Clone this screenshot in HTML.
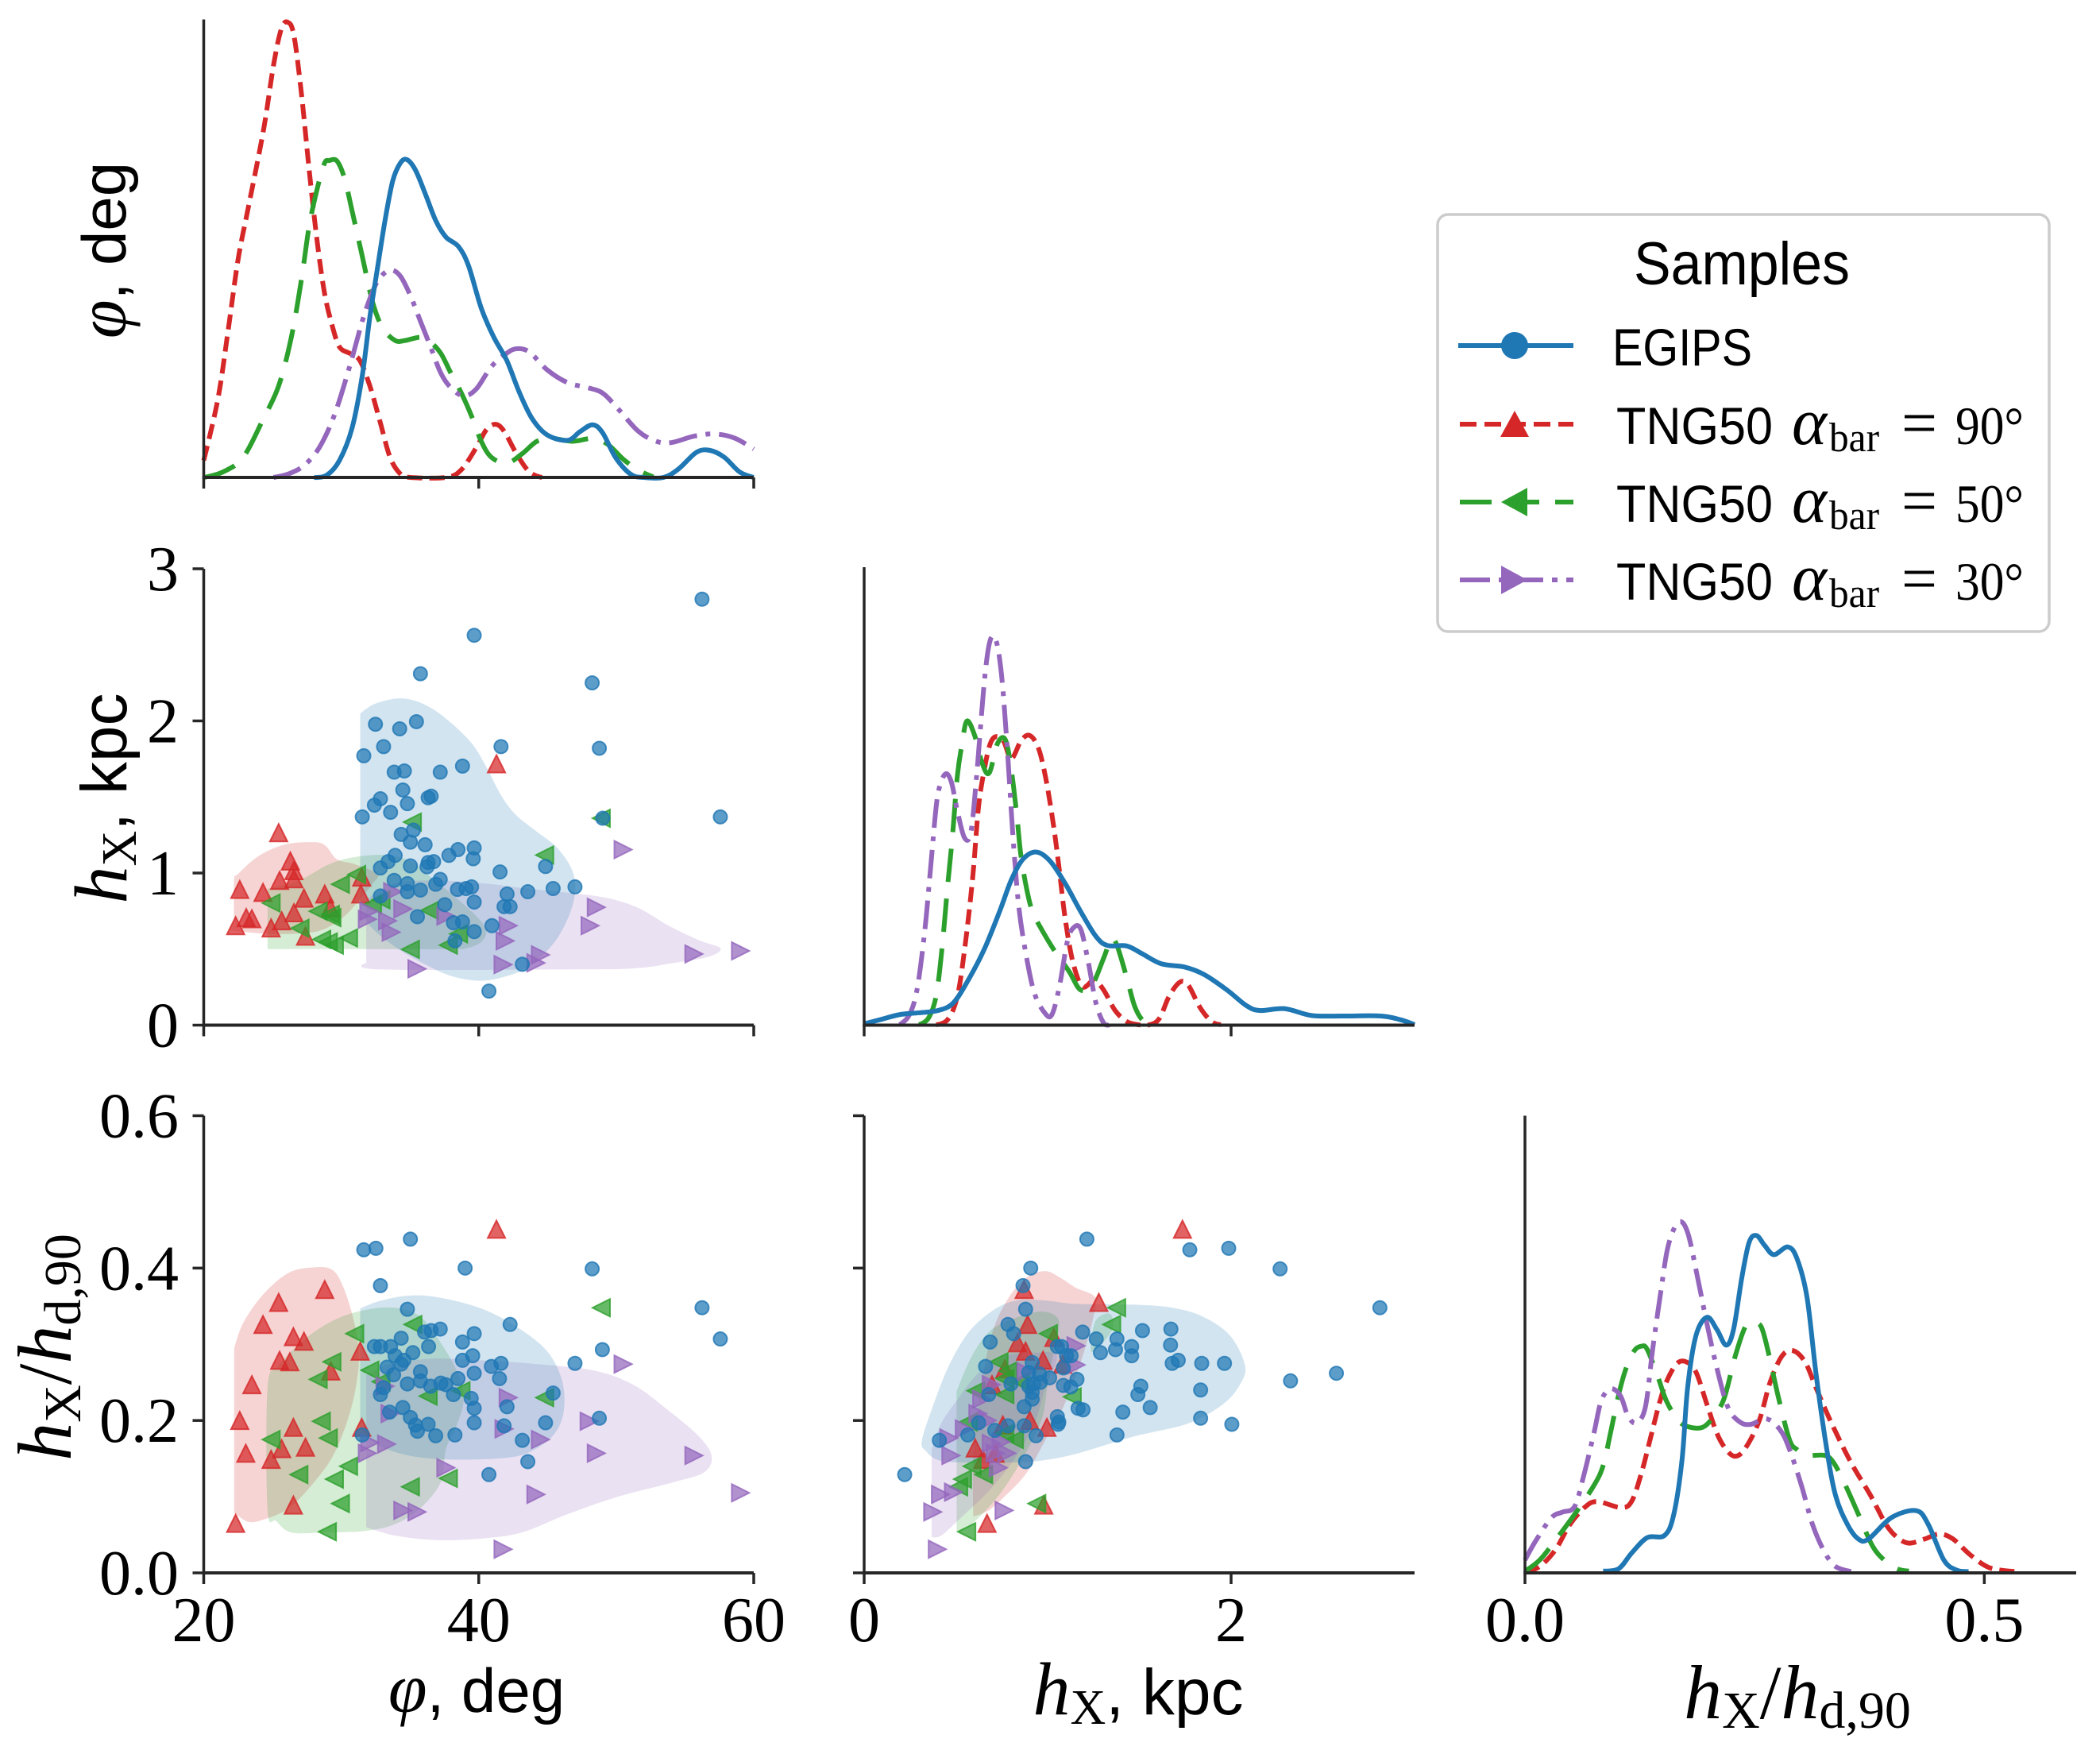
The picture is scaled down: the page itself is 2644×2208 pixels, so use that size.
<!DOCTYPE html>
<html lang="en">
<head>
<meta charset="utf-8">
<title>Samples corner plot</title>
<style>
html,body{margin:0;padding:0;background:#fff;}
svg{display:block;}
.tick{font-family:"Liberation Serif",serif;font-size:80px;fill:#000;}
.sans{font-family:"Liberation Sans",sans-serif;}
.serif{font-family:"Liberation Serif",serif;}
.ital{font-family:"Liberation Serif",serif;font-style:italic;}
</style>
</head>
<body>
<svg id="chart" xmlns="http://www.w3.org/2000/svg" width="2644" height="2208" viewBox="0 0 2644 2208">
<rect x="0" y="0" width="2644" height="2208" fill="#ffffff"/>
<g id="panel-phi-kde"></g>
<g id="panel-phi-hx"></g>
<g id="panel-hx-kde"></g>
<g id="panel-phi-ratio"></g>
<g id="panel-hx-ratio"></g>
<g id="panel-ratio-kde"></g>

<text transform="translate(158,315) rotate(-90)" text-anchor="middle"><tspan class="ital" font-size="88">φ</tspan><tspan class="sans" font-size="78">, deg</tspan></text>
<text transform="translate(159,1005) rotate(-90)" text-anchor="middle"><tspan class="ital" font-size="94">h</tspan><tspan class="serif" font-size="62" dy="12">X</tspan><tspan class="sans" font-size="82" dy="-12">, kpc</tspan></text>
<text transform="translate(89,1696) rotate(-90)" text-anchor="middle"><tspan class="ital" font-size="96">h</tspan><tspan class="serif" font-size="66" dy="12">X</tspan><tspan class="serif" font-size="96" dy="-12">/</tspan><tspan class="ital" font-size="96">h</tspan><tspan class="serif" font-size="66" dy="12">d,90</tspan></text>

<text x="600" y="2155" text-anchor="middle"><tspan class="ital" font-size="88">φ</tspan><tspan class="sans" font-size="78">, deg</tspan></text>
<text x="1433" y="2158" text-anchor="middle"><tspan class="ital" font-size="94">h</tspan><tspan class="serif" font-size="62" dy="12">X</tspan><tspan class="sans" font-size="82" dy="-12">, kpc</tspan></text>
<text x="2263" y="2163" text-anchor="middle"><tspan class="ital" font-size="96">h</tspan><tspan class="serif" font-size="66" dy="12">X</tspan><tspan class="serif" font-size="96" dy="-12">/</tspan><tspan class="ital" font-size="96">h</tspan><tspan class="serif" font-size="66" dy="12">d,90</tspan></text>

<g>
<rect x="1810" y="270" width="770" height="525" rx="13" ry="13" fill="#ffffff" stroke="#cccccc" stroke-width="3.5"/>
<text class="sans" x="2057" y="358" font-size="76" textLength="272" lengthAdjust="spacingAndGlyphs">Samples</text>
<g>
<line x1="1836" x2="1981" y1="435" y2="435" stroke="#1f77b4" stroke-width="6"/>
<circle cx="1907" cy="435" r="17" fill="#1f77b4"/>
<text class="sans" x="2030" y="460" font-size="66" textLength="176" lengthAdjust="spacingAndGlyphs">EGIPS</text>
</g>
<g>
<line x1="1838" x2="1981" y1="534" y2="534" stroke="#d62728" stroke-width="6" stroke-dasharray="21 10"/>
<polygon points="1907,517 1925,550 1889,550" fill="#d62728"/>
<text x="2035" y="559"><tspan class="sans" font-size="66" textLength="197" lengthAdjust="spacingAndGlyphs">TNG50</tspan><tspan class="ital" font-size="84" x="2256">α</tspan><tspan class="serif" font-size="52" x="2303" y="568" textLength="63" lengthAdjust="spacingAndGlyphs">bar</tspan><tspan class="serif" font-size="80" x="2394" y="559" textLength="45" lengthAdjust="spacingAndGlyphs">=</tspan><tspan class="serif" font-size="68" x="2462" textLength="86" lengthAdjust="spacingAndGlyphs">90°</tspan></text>
</g>
<g>
<line x1="1838" x2="1981" y1="632" y2="632" stroke="#2ca02c" stroke-width="6" stroke-dasharray="40 20"/>
<polygon points="1890,632 1923,614 1923,650" fill="#2ca02c"/>
<text x="2035" y="657"><tspan class="sans" font-size="66" textLength="197" lengthAdjust="spacingAndGlyphs">TNG50</tspan><tspan class="ital" font-size="84" x="2256">α</tspan><tspan class="serif" font-size="52" x="2303" y="666" textLength="63" lengthAdjust="spacingAndGlyphs">bar</tspan><tspan class="serif" font-size="80" x="2394" y="657" textLength="45" lengthAdjust="spacingAndGlyphs">=</tspan><tspan class="serif" font-size="68" x="2462" textLength="86" lengthAdjust="spacingAndGlyphs">50°</tspan></text>
</g>
<g>
<line x1="1838" x2="1981" y1="730" y2="730" stroke="#9467bd" stroke-width="6" stroke-dasharray="38 11 7 11"/>
<polygon points="1890,712 1923,730 1890,748" fill="#9467bd"/>
<text x="2035" y="755"><tspan class="sans" font-size="66" textLength="197" lengthAdjust="spacingAndGlyphs">TNG50</tspan><tspan class="ital" font-size="84" x="2256">α</tspan><tspan class="serif" font-size="52" x="2303" y="764" textLength="63" lengthAdjust="spacingAndGlyphs">bar</tspan><tspan class="serif" font-size="80" x="2394" y="755" textLength="45" lengthAdjust="spacingAndGlyphs">=</tspan><tspan class="serif" font-size="68" x="2462" textLength="86" lengthAdjust="spacingAndGlyphs">30°</tspan></text>
</g>
</g>
</svg>
<script>
// ---------- tick labels ----------
const phiTicks=[20,40,60];
const phiTickLabels=["20","40","60"];
const hxXTicks=[0,2];
const hxXTickLabels=["0","2"];
const ratioXTicks=[0,0.5];
const ratioXTickLabels=["0.0","0.5"];
const hxYTicks=[0,1,2,3];
const hxYTickLabels=["0","1","2","3"];
const ratioYTicks=[0,0.2,0.4,0.6];
const ratioYTickLabels=["0.0","0.2","0.4","0.6"];

// ---------- density curves: phi ----------
const kdePhiRedX=[20,21.03,21.77,22.5,23.24,24.35,25.08,25.64,26.11,26.56,27.11,27.66,28.21,28.77,29.32,29.87,30.61,31.34,32.08,32.82,33.55,34.29,35.03,37.61,38.71,39.82,40.55,41.22,41.84,42.76,43.68,44.6];
const kdePhiRedY=[.037,.171,.32,.476,.589,.759,.901,.979,.994,.965,.837,.674,.525,.405,.334,.285,.271,.256,.2,.122,.044,.008,0,0,.016,.065,.104,.116,.101,.051,.012,0];
const kdePhiGreenX=[20,21.4,22.87,24.35,25.45,26.37,27.11,27.66,28.21,28.77,29.13,29.69,30.24,30.79,31.53,32.27,33,33.92,34.66,35.76,36.5,37.24,37.97,38.71,39.45,40.18,40.92,42.03,43.13,44.24,45.34,46.81,48.29,49.39,50.5,51.6,52.7];
const kdePhiGreenY=[0,.012,.044,.129,.2,.306,.433,.547,.625,.685,.692,.691,.653,.582,.483,.384,.327,.299,.299,.306,.295,.271,.228,.186,.136,.079,.044,.031,.051,.079,.085,.079,.085,.072,.04,.016,.001];
const kdePhiPurpleX=[25.08,26.19,27.29,28.4,29.5,30.61,31.53,32.27,32.82,33.55,34.29,35.03,35.76,36.5,37.24,37.97,38.9,39.82,40.92,42.03,42.76,43.68,44.97,46.45,47.92,49.02,50.13,51.6,52.89,54,55.65,57.13,58.6,60];
const kdePhiPurpleY=[0,.008,.026,.065,.136,.242,.341,.405,.436,.453,.44,.397,.341,.285,.228,.196,.178,.193,.242,.271,.281,.274,.235,.207,.196,.184,.15,.101,.079,.076,.09,.095,.086,.062];
const kdePhiBlueX=[28.03,28.95,29.87,30.79,31.53,32.08,32.63,33.19,33.74,34.29,34.77,35.4,36.13,36.87,37.61,38.53,39.26,40.18,41.1,42.03,42.95,43.87,44.97,46.45,47.37,48.29,49.02,49.94,51.05,51.97,53.44,54.55,55.84,56.83,57.86,58.97,60];
const kdePhiBlueY=[0,.005,.037,.108,.222,.35,.456,.562,.647,.686,.694,.671,.618,.561,.525,.504,.462,.37,.306,.256,.186,.129,.093,.081,.1,.115,.097,.044,.007,0,0,.019,.055,.059,.044,.012,0];

// ---------- density curves: hX ----------
const kdeHxBlueX=[0,.088,.193,.298,.403,.487,.571,.655,.739,.802,.865,.938,1.012,1.095,1.179,1.263,1.326,1.431,1.515,1.62,1.746,1.851,1.977,2.082,2.155,2.292,2.439,2.606,2.816,2.921,3];
const kdeHxBlueY=[.003,.012,.023,.027,.032,.049,.101,.166,.249,.317,.362,.378,.359,.31,.249,.194,.174,.173,.156,.134,.127,.111,.077,.043,.032,.036,.021,.02,.02,.012,.001];
const kdeHxRedX=[.392,.455,.508,.55,.592,.623,.655,.686,.718,.76,.802,.854,.9,.949,.991,1.033,1.064,1.095,1.137,1.19,1.253,1.305,1.368,1.431,1.494,1.557,1.61,1.662,1.721,1.767,1.83,1.893,1.945];
const kdeHxRedY=[.001,.012,.063,.173,.324,.475,.558,.613,.63,.62,.582,.62,.633,.606,.537,.434,.338,.235,.139,.084,.098,.077,.032,.008,.001,.001,.015,.063,.094,.087,.039,.008,.001];
const kdeHxGreenX=[.298,.35,.392,.424,.455,.483,.508,.533,.56,.602,.644,.682,.728,.77,.802,.833,.854,.886,.917,.97,1.043,1.116,1.179,1.242,1.305,1.347,1.379,1.431,1.473,1.515,1.568];
const kdeHxGreenY=[.001,.015,.063,.166,.304,.42,.544,.613,.664,.633,.571,.551,.616,.623,.558,.455,.372,.297,.249,.207,.159,.118,.077,.087,.146,.188,.173,.104,.043,.012,.001];
const kdeHxPurpleX=[.193,.246,.288,.329,.361,.392,.413,.445,.476,.508,.546,.581,.613,.655,.686,.718,.749,.781,.812,.844,.886,.928,.98,1.022,1.064,1.106,1.137,1.179,1.221,1.263,1.305,1.337];
const kdeHxPurpleY=[.001,.022,.077,.201,.338,.475,.523,.549,.53,.468,.41,.42,.544,.75,.839,.841,.764,.599,.407,.255,.146,.07,.029,.022,.084,.18,.211,.211,.139,.049,.005,.001];

// ---------- density curves: ratio ----------
const kdeRatioBlueX=[.085,.102,.116,.133,.152,.162,.171,.177,.186,.198,.209,.219,.227,.236,.244,.252,.261,.271,.286,.296,.307,.317,.328,.338,.351,.363,.374,.399,.426,.439,.456,.47,.483];
const kdeRatioBlueY=[.004,.009,.043,.077,.082,.128,.248,.404,.518,.559,.532,.498,.532,.645,.723,.738,.716,.696,.713,.688,.603,.433,.277,.17,.106,.074,.074,.121,.136,.106,.028,.006,.003];
const kdeRatioRedX=[0,.016,.033,.049,.066,.079,.104,.116,.127,.137,.146,.154,.165,.175,.186,.198,.209,.219,.229,.24,.255,.267,.28,.292,.305,.317,.334,.355,.376,.393,.405,.418,.435,.451,.466,.485,.506,.533];
const kdeRatioRedY=[.001,.014,.05,.106,.145,.156,.143,.156,.22,.298,.369,.418,.457,.462,.44,.369,.305,.27,.255,.273,.333,.418,.475,.486,.461,.404,.326,.241,.17,.106,.078,.065,.074,.085,.074,.039,.011,.003];
const kdeRatioGreenX=[0,.016,.033,.054,.075,.085,.093,.102,.11,.119,.127,.133,.144,.154,.167,.179,.194,.206,.217,.229,.24,.248,.257,.265,.276,.288,.296,.307,.326,.336,.349,.363,.378,.391,.405,.418];
const kdeRatioGreenY=[.004,.028,.071,.128,.191,.234,.305,.39,.447,.486,.496,.489,.433,.376,.333,.319,.319,.344,.383,.475,.539,.546,.539,.482,.383,.291,.27,.257,.257,.241,.191,.128,.06,.028,.009,.004];
const kdeRatioPurpleX=[0,.012,.029,.041,.054,.064,.075,.083,.093,.104,.112,.121,.131,.139,.148,.156,.167,.177,.188,.198,.209,.221,.234,.246,.263,.278,.288,.301,.313,.326,.338,.355];
const kdeRatioPurpleY=[.028,.071,.121,.133,.145,.213,.305,.376,.403,.387,.344,.328,.362,.489,.617,.716,.767,.745,.645,.546,.447,.362,.33,.325,.337,.312,.27,.191,.106,.046,.014,.003];

// ---------- scatter: phi vs hX ----------
const phiHxBlueX=[56.24,39.67,35.76,48.25,35.47,32.49,34.25,33.08,41.62,48.77,31.64,38.82,33.85,34.59,37.2,34.48,32.85,32.41,34.81,36.32,36.54,33.59,31.53,49.02,57.57,35.25,34.36,35.03,36.1,39.67,38.49,33.92,37.83,33.41,39.6,36.32,36.72,35.03,36.24,32.85,44.86,41.55,33.85,37.2,34.81,36.87,34.81,35.76,38.45,39.08,39.48,47,45.41,43.57,42.06,32.85,39.67,37.53,41.84,42.28,35.54,38.16,38.82,40.96,39.67,38.27,43.17,40.74];
const phiHxBlueY=[2.8,2.563,2.31,2.25,1.995,1.978,1.948,1.831,1.831,1.82,1.771,1.703,1.663,1.671,1.663,1.546,1.488,1.446,1.456,1.495,1.505,1.399,1.369,1.36,1.369,1.282,1.254,1.203,1.186,1.165,1.154,1.116,1.116,1.075,1.094,1.069,1.075,1.047,1.041,1.033,1.043,1.007,.952,.958,.93,.926,.877,.888,.892,.898,.909,.909,.898,.877,.862,.849,.809,.792,.779,.779,.713,.673,.679,.654,.615,.554,.4,.224];
const phiHxRedX=[41.29,25.45,26.3,26.56,25.52,26.56,22.62,24.31,27.29,28.8,31.42,31.49,29.21,23.09,23.5,26.56,22.32,25.67,24.9,27.4];
const phiHxRedY=[1.718,1.265,1.079,1.016,.952,.962,.892,.873,.835,.862,.862,.973,.771,.707,.7,.739,.654,.686,.639,.585];
const phiHxGreenX=[35.17,48.91,44.79,31.12,29.94,24.9,28.32,29.21,29.32,27,36.43,32.27,32.89,38.53,37.79,35.03,28.58,29.5,30.53,29.06];
const phiHxGreenY=[1.335,1.36,1.118,.99,.926,.803,.749,.728,.707,.637,.754,.792,.824,.6,.526,.498,.564,.526,.573,.547];
const phiHxPurpleX=[50.5,33.74,48.55,34.48,37.61,32.01,31.9,33.37,48.1,42.14,33.63,41.92,41.77,44.49,44.16,35.51,55.65,59.04];
const phiHxPurpleY=[1.154,.877,.775,.764,.717,.749,.696,.686,.654,.654,.611,.554,.398,.462,.409,.37,.468,.488];
// contour outlines, phi vs hX
const phiHxBlueFillX=[31.38,31.38,32.45,34.29,35.95,37.61,39.45,40.55,41.66,42.76,44.24,45.71,46.81,47,46.45,45.34,43.5,41.66,40,37.97,36.13,33.92,32.08,31.38,31.38];
const phiHxBlueFillY=[2.048,2.048,2.112,2.148,2.112,2.016,1.857,1.697,1.505,1.377,1.271,1.165,1.016,.867,.696,.526,.377,.313,.292,.324,.398,.515,.654,.781,.781];
const phiHxRedFillX=[22.21,22.5,23.98,25.82,27.66,28.77,29.69,30.98,32.63,32.27,31.53,30.24,28.77,27.29,24.71,21.95,21.95,22.21,22.21];
const phiHxRedFillY=[.952,.994,1.111,1.186,1.203,1.186,1.09,1.058,.994,.93,.845,.717,.632,.605,.6,.622,.622,.675,.675];
const phiHxGreenFillX=[24.64,24.64,24.64,24.64,26.92,29.13,30.98,33.19,35.03,36.5,37.97,39.82,40.55,40.18,39.08,37.61];
const phiHxGreenFillY=[.5,.5,.898,.898,.952,1.058,1.105,1.118,1.079,.973,.867,.717,.622,.547,.505,.5];
const phiHxPurpleFillX=[31.82,31.82,33.92,36.87,40.55,43.5,46.81,49.39,51.6,53.81,56.02,57.57,56.76,54.18,51.23,45.71,32.82,31.82,31.82];
const phiHxPurpleFillY=[.824,.824,.93,.952,.93,.898,.867,.835,.771,.654,.558,.505,.451,.409,.373,.366,.366,.409,.409];

// ---------- scatter: phi vs ratio ----------
const phiRatioBlueX=[35.03,32.52,31.64,39.01,48.25,32.85,34.81,56.24,57.57,42.28,39.67,37.2,36.54,36.06,34.36,38.82,32.41,32.85,33.59,36.35,48.99,39.56,38.82,35.21,33.92,34.55,34.36,47,41.62,40.92,33.33,33.81,39.67,35.76,41.51,38.49,35.76,34.81,37.24,36.5,37.61,33.08,32.85,38.16,45.41,39.45,39.67,42.06,34.48,33.52,35.03,39.67,48.77,41.84,36.32,44.86,35.4,35.54,36.87,38.27,31.53,43.17,43.57,40.74];
const phiRatioBlueY=[.438,.426,.424,.4,.399,.377,.346,.348,.307,.326,.314,.32,.318,.316,.308,.303,.297,.297,.297,.297,.293,.285,.279,.289,.285,.279,.274,.275,.275,.271,.27,.26,.262,.264,.255,.255,.252,.248,.249,.245,.247,.243,.234,.234,.236,.229,.216,.218,.217,.211,.204,.197,.203,.193,.195,.197,.194,.186,.18,.181,.181,.174,.146,.129];
const phiRatioRedX=[41.29,28.8,25.45,24.31,26.52,27.29,31.38,25.52,26.26,29.24,23.5,22.62,26.52,31.49,25.67,27.4,23.06,24.9,26.52,22.32];
const phiRatioRedY=[.451,.372,.355,.326,.31,.304,.291,.279,.277,.265,.247,.2,.191,.191,.163,.165,.157,.149,.089,.065];
const phiRatioGreenX=[48.91,35.21,30.98,29.32,32.08,28.32,32.89,38.71,36.32,44.79,28.55,24.9,29.06,26.92,30.53,29.5,37.79,35.03,29.94,28.99];
const phiRatioGreenY=[.348,.326,.314,.277,.266,.254,.251,.239,.232,.23,.199,.175,.177,.129,.14,.123,.124,.113,.091,.054];
const phiRatioPurpleX=[50.5,42.14,33.19,33.55,48.03,41.84,44.49,32.08,33.3,31.9,48.55,55.65,37.61,44.16,34.48,35.51,59.04,41.77];
const phiRatioPurpleY=[.274,.23,.245,.209,.199,.189,.175,.171,.169,.157,.157,.154,.138,.103,.082,.08,.105,.031];
// contour outlines, phi vs ratio
const phiRatioBlueFillX=[31.38,31.38,32.82,35.03,37.24,40.18,42.76,44.97,46.08,46.15,45.34,43.5,41.29,37.61,34.66,32.45,31.38,31.38];
const phiRatioBlueFillY=[.347,.347,.357,.364,.361,.347,.323,.291,.251,.209,.179,.157,.15,.149,.155,.17,.191,.191];
const phiRatioRedFillX=[22.21,22.21,22.87,24.35,26.19,28.03,29.32,30.06,30.79,31.27,31.16,30.61,29.5,28.03,26.19,24.35,23.24,22.21,22.21];
const phiRatioRedFillY=[.294,.294,.328,.366,.394,.401,.398,.379,.34,.294,.255,.209,.157,.119,.085,.07,.067,.079,.079];
const phiRatioGreenFillX=[24.64,25.45,27.29,29.5,31.71,33.92,35.76,37.24,38.53,38.9,38.34,37.61,37.24,35.76,33.92,31.71,28.77,26.37,25.27,24.64];
const phiRatioGreenFillY=[.243,.272,.306,.332,.345,.348,.336,.302,.26,.226,.191,.162,.119,.085,.064,.055,.053,.053,.068,.083];
const phiRatioPurpleFillX=[31.82,31.82,33.55,36.5,40.18,44.24,48.29,51.23,53.81,56.02,56.94,56.39,54.18,50.13,46.45,43.13,40.18,36.87,33.92,31.82,31.82];
const phiRatioPurpleFillY=[.26,.26,.274,.281,.279,.274,.266,.247,.213,.179,.153,.132,.119,.1,.077,.053,.045,.043,.049,.06,.06];

// ---------- scatter: hX vs ratio ----------
const hxRatioBlueX=[1.214,1.775,1.987,2.267,.908,.866,.88,2.811,.784,.815,.687,1.191,1.265,1.378,1.517,1.672,1.67,1.458,1.37,1.288,1.458,1.053,1.076,1.103,1.128,1.712,1.679,1.84,1.964,.916,.662,1.086,.897,.956,1.011,1.16,2.574,2.324,.8,.96,.924,.897,1.086,1.126,1.508,1.834,1.492,.916,.916,.679,.872,1.166,1.193,1.559,1.41,1.834,1.053,1.057,1.061,2.004,.624,.784,.872,.712,.565,.937,1.378,.41,.88,.221];
const hxRatioBlueY=[.438,.424,.426,.399,.4,.377,.346,.348,.326,.314,.303,.316,.307,.307,.318,.32,.299,.297,.293,.289,.285,.297,.297,.285,.285,.279,.275,.275,.275,.276,.271,.269,.263,.261,.256,.254,.262,.252,.248,.25,.248,.245,.246,.244,.245,.24,.234,.237,.228,.234,.218,.216,.214,.217,.211,.203,.205,.195,.198,.195,.197,.193,.193,.187,.181,.18,.181,.174,.146,.129];
const hxRatioRedX=[1.735,.872,1.279,.891,1.034,.836,.88,.975,1.082,.767,.697,.903,.756,.996,.605,.647,.714,.979,.67];
const hxRatioRedY=[.451,.372,.355,.326,.309,.302,.291,.279,.274,.268,.247,.2,.194,.191,.164,.149,.157,.089,.065];
const hxRatioGreenX=[1.376,1.349,1.004,.784,.735,1.134,.609,.767,.767,.851,.567,.819,.767,.588,.651,.536,.515,.941,.559];
const hxRatioGreenY=[.348,.326,.314,.265,.277,.231,.239,.234,.255,.251,.198,.175,.183,.14,.129,.123,.113,.091,.054];
const hxRatioPurpleX=[1.155,1.155,.882,.693,.641,.62,.672,.546,.462,.693,.746,.473,.714,.777,.731,.416,.487,.374,.763,.399];
const hxRatioPurpleY=[.298,.273,.264,.247,.228,.209,.2,.189,.177,.17,.172,.154,.157,.157,.138,.103,.106,.08,.082,.031];
// contour outlines, hX vs ratio
const hxRatioBlueFillX=[.315,.378,.462,.567,.693,.819,.966,1.155,1.471,1.681,1.849,1.996,2.076,2.048,1.954,1.765,1.471,1.134,.903,.63,.42,.336];
const hxRatioBlueFillY=[.174,.221,.272,.315,.343,.357,.358,.353,.352,.348,.336,.311,.272,.247,.221,.196,.179,.155,.146,.145,.147,.16];
const hxRatioRedFillX=[.595,.595,.595,.63,.693,.777,.882,.987,1.071,1.155,1.25,1.261,1.197,1.092,.987,.882,.756,.672,.595,.595];
const hxRatioRedFillY=[.074,.074,.157,.234,.311,.357,.387,.396,.387,.374,.364,.349,.289,.221,.174,.13,.098,.081,.074,.074];
const hxRatioGreenFillX=[.504,.504,.504,.504,.588,.693,.84,.966,1.05,1.061,1.029,.998,.966,.861,.735,.588,.525];
const hxRatioGreenFillY=[.055,.055,.238,.238,.285,.319,.336,.343,.336,.319,.285,.243,.2,.149,.102,.064,.055];
const hxRatioGreenLobeX=[1.26,1.34,1.35,1.24];
const hxRatioGreenLobeY=[.33,.34,.318,.29];
const hxRatioPurpleFillX=[.368,.368,.368,.368,.42,.504,.63,.777,.924,1.05,.987,.935,.84,.693,.525,.42];
const hxRatioPurpleFillY=[.047,.047,.162,.162,.196,.226,.264,.285,.289,.285,.243,.2,.157,.111,.072,.049];

// ---------- axis functions ----------
function linear(d0,d1,r0,r1){return function(v){return r0+(v-d0)*(r1-r0)/(d1-d0);};}
const xPhi=linear(20,60,256.5,949);
const xHx=linear(0,3,1088,1781);
const xRatio=linear(0,0.6,1920,2614);
const yPhiDensity=linear(0,1,601,24.5);
const yHxDensity=linear(0,1,1290.5,714);
const yRatioDensity=linear(0,1,1980,1404.5);
const yHx=linear(0,3,1290.5,716);
const yRatio=linear(0,0.6,1980,1404.5);

const NS='http://www.w3.org/2000/svg';
const BLUE='#1f77b4',RED='#d62728',GREEN='#2ca02c',PURPLE='#9467bd';
const DASH_RED='19 9',DASH_GREEN='42 21',DASH_PURPLE='36 11 6 11';

function node(tag,parent){const e=document.createElementNS(NS,tag);parent.appendChild(e);return e;}
function f(v){return v.toFixed(2);}

function smoothPath(px,py,closed){
  const n=px.length;let d='M'+f(px[0])+' '+f(py[0]);
  const idx=function(i){return closed?(i+n)%n:Math.max(0,Math.min(n-1,i));};
  const same=function(i,j){return px[idx(i)]===px[idx(j)]&&py[idx(i)]===py[idx(j)];};
  // repeated vertices mark sharp corners: the curve has no tangent there
  const tan=function(arr,i){
    if(same(i,i+1)||same(i,i-1))return 0;
    return (arr[idx(i+1)]-arr[idx(i-1)])/6;
  };
  const last=closed?n:n-1;
  for(let i=0;i<last;i++){
    const c1x=px[idx(i)]+tan(px,i),c1y=py[idx(i)]+tan(py,i);
    const c2x=px[idx(i+1)]-tan(px,i+1),c2y=py[idx(i+1)]-tan(py,i+1);
    d+='C'+f(c1x)+' '+f(c1y)+' '+f(c2x)+' '+f(c2y)+' '+f(px[idx(i+1)])+' '+f(py[idx(i+1)]);
  }
  return d+(closed?'Z':'');
}

function drawDensity(g,xs,ys,sx,sy,color,dash,name){
  const p=node('path',g);
  
  
  p.setAttribute('d',smoothPath(xs.map(sx),ys.map(sy),false));
  p.setAttribute('fill','none');
  p.setAttribute('stroke',color);
  p.setAttribute('stroke-width','6');
  if(dash)p.setAttribute('stroke-dasharray',dash);
}

function drawFill(g,xs,ys,sx,sy,color,name){
  const p=node('path',g);
  
  
  p.setAttribute('d',smoothPath(xs.map(sx),ys.map(sy),true));
  p.setAttribute('fill',color);
  p.setAttribute('fill-opacity','0.2');
  p.setAttribute('stroke','none');
}

function drawPoints(g,xs,ys,sx,sy,color,kind,name){
  for(let i=0;i<xs.length;i++){
    const cx=sx(xs[i]),cy=sy(ys[i]);
    const s=11;
    let m;
    if(kind==='circle'){
      m=node('circle',g);
      m.setAttribute('cx',f(cx));
      m.setAttribute('cy',f(cy));
      m.setAttribute('r','8.5');
    }else{
      m=node('polygon',g);
      let pts;
      if(kind==='up')pts=[[cx,cy-s],[cx+s,cy+s],[cx-s,cy+s]];
      else if(kind==='left')pts=[[cx-s,cy],[cx+s,cy-s],[cx+s,cy+s]];
      else pts=[[cx+s,cy],[cx-s,cy-s],[cx-s,cy+s]];
      m.setAttribute('points',pts.map(function(q){return f(q[0])+','+f(q[1]);}).join(' '));
    }
    
    
    m.setAttribute('fill',color);
    m.setAttribute('fill-opacity','0.72');
    m.setAttribute('stroke',color);
    m.setAttribute('stroke-opacity','0.8');
    m.setAttribute('stroke-width','2');
  }
}

function drawAxes(g,x0,x1,y0,y1,xTicks,sx,yTicks,sy,xLabels,yLabels){
  const ax=node('g',g);
  
  
  ax.setAttribute('stroke','#262626');
  ax.setAttribute('stroke-width','3.5');
  const ls=node('line',ax);
  
  
  ls.setAttribute('x1',x0);ls.setAttribute('x2',x0);ls.setAttribute('y1',y0);ls.setAttribute('y2',y1+1.7);
  const bs=node('line',ax);
  
  
  bs.setAttribute('x1',x0-1.7);bs.setAttribute('x2',x1);bs.setAttribute('y1',y1);bs.setAttribute('y2',y1);
  bs.setAttribute('stroke-width','4');
  xTicks.forEach(function(t,i){
    const tk=node('line',ax);
    
    
    tk.setAttribute('x1',f(sx(t)));tk.setAttribute('x2',f(sx(t)));tk.setAttribute('y1',y1);tk.setAttribute('y2',y1+14);
    if(xLabels){
      const tx=node('text',g);
      
      
      tx.setAttribute('class','tick');
      tx.setAttribute('x',f(sx(t)));
      tx.setAttribute('y','2066');
      tx.setAttribute('text-anchor','middle');
      tx.textContent=xLabels[i];
    }
  });
  if(yTicks)yTicks.forEach(function(t,i){
    const tk=node('line',ax);
    
    
    tk.setAttribute('x1',x0-14);tk.setAttribute('x2',x0);tk.setAttribute('y1',f(sy(t)));tk.setAttribute('y2',f(sy(t)));
    if(yLabels){
      const tx=node('text',g);
      
      
      tx.setAttribute('class','tick');
      tx.setAttribute('x','225');
      tx.setAttribute('y',f(sy(t)+27));
      tx.setAttribute('text-anchor','end');
      tx.textContent=yLabels[i];
    }
  });
}

// ---------- phi density ----------
const g1=document.getElementById('panel-phi-kde');
drawDensity(g1,kdePhiRedX,kdePhiRedY,xPhi,yPhiDensity,RED,DASH_RED,'phi-density-tng50-90');
drawDensity(g1,kdePhiGreenX,kdePhiGreenY,xPhi,yPhiDensity,GREEN,DASH_GREEN,'phi-density-tng50-50');
drawDensity(g1,kdePhiPurpleX,kdePhiPurpleY,xPhi,yPhiDensity,PURPLE,DASH_PURPLE,'phi-density-tng50-30');
drawDensity(g1,kdePhiBlueX,kdePhiBlueY,xPhi,yPhiDensity,BLUE,null,'phi-density-egips');
drawAxes(g1,256.5,949,24.5,601,phiTicks,xPhi,null,null,null,null);

// ---------- hX density ----------
const g2=document.getElementById('panel-hx-kde');
drawDensity(g2,kdeHxRedX,kdeHxRedY,xHx,yHxDensity,RED,DASH_RED,'hx-density-tng50-90');
drawDensity(g2,kdeHxGreenX,kdeHxGreenY,xHx,yHxDensity,GREEN,DASH_GREEN,'hx-density-tng50-50');
drawDensity(g2,kdeHxPurpleX,kdeHxPurpleY,xHx,yHxDensity,PURPLE,DASH_PURPLE,'hx-density-tng50-30');
drawDensity(g2,kdeHxBlueX,kdeHxBlueY,xHx,yHxDensity,BLUE,null,'hx-density-egips');
drawAxes(g2,1088,1781,714,1290.5,[0,2],xHx,null,null,null,null);

// ---------- ratio density ----------
const g3=document.getElementById('panel-ratio-kde');
drawDensity(g3,kdeRatioRedX,kdeRatioRedY,xRatio,yRatioDensity,RED,DASH_RED,'ratio-density-tng50-90');
drawDensity(g3,kdeRatioGreenX,kdeRatioGreenY,xRatio,yRatioDensity,GREEN,DASH_GREEN,'ratio-density-tng50-50');
drawDensity(g3,kdeRatioPurpleX,kdeRatioPurpleY,xRatio,yRatioDensity,PURPLE,DASH_PURPLE,'ratio-density-tng50-30');
drawDensity(g3,kdeRatioBlueX,kdeRatioBlueY,xRatio,yRatioDensity,BLUE,null,'ratio-density-egips');
drawAxes(g3,1920,2614,1404.5,1980,ratioXTicks,xRatio,null,null,ratioXTickLabels,null);

// ---------- phi vs hX ----------
const g4=document.getElementById('panel-phi-hx');
drawFill(g4,phiHxRedFillX,phiHxRedFillY,xPhi,yHx,RED,'phi-hx-contour-tng50-90');
drawFill(g4,phiHxGreenFillX,phiHxGreenFillY,xPhi,yHx,GREEN,'phi-hx-contour-tng50-50');
drawFill(g4,phiHxPurpleFillX,phiHxPurpleFillY,xPhi,yHx,PURPLE,'phi-hx-contour-tng50-30');
drawFill(g4,phiHxBlueFillX,phiHxBlueFillY,xPhi,yHx,BLUE,'phi-hx-contour-egips');
drawPoints(g4,phiHxRedX,phiHxRedY,xPhi,yHx,RED,'up','phi-hx-point-tng50-90');
drawPoints(g4,phiHxGreenX,phiHxGreenY,xPhi,yHx,GREEN,'left','phi-hx-point-tng50-50');
drawPoints(g4,phiHxPurpleX,phiHxPurpleY,xPhi,yHx,PURPLE,'right','phi-hx-point-tng50-30');
drawPoints(g4,phiHxBlueX,phiHxBlueY,xPhi,yHx,BLUE,'circle','phi-hx-point-egips');
drawAxes(g4,256.5,949,716,1290.5,phiTicks,xPhi,hxYTicks,yHx,null,hxYTickLabels);

// ---------- phi vs ratio ----------
const g5=document.getElementById('panel-phi-ratio');
drawFill(g5,phiRatioRedFillX,phiRatioRedFillY,xPhi,yRatio,RED,'phi-ratio-contour-tng50-90');
drawFill(g5,phiRatioGreenFillX,phiRatioGreenFillY,xPhi,yRatio,GREEN,'phi-ratio-contour-tng50-50');
drawFill(g5,phiRatioPurpleFillX,phiRatioPurpleFillY,xPhi,yRatio,PURPLE,'phi-ratio-contour-tng50-30');
drawFill(g5,phiRatioBlueFillX,phiRatioBlueFillY,xPhi,yRatio,BLUE,'phi-ratio-contour-egips');
drawPoints(g5,phiRatioRedX,phiRatioRedY,xPhi,yRatio,RED,'up','phi-ratio-point-tng50-90');
drawPoints(g5,phiRatioGreenX,phiRatioGreenY,xPhi,yRatio,GREEN,'left','phi-ratio-point-tng50-50');
drawPoints(g5,phiRatioPurpleX,phiRatioPurpleY,xPhi,yRatio,PURPLE,'right','phi-ratio-point-tng50-30');
drawPoints(g5,phiRatioBlueX,phiRatioBlueY,xPhi,yRatio,BLUE,'circle','phi-ratio-point-egips');
drawAxes(g5,256.5,949,1404.5,1980,phiTicks,xPhi,ratioYTicks,yRatio,phiTickLabels,ratioYTickLabels);

// ---------- hX vs ratio ----------
const g6=document.getElementById('panel-hx-ratio');
drawFill(g6,hxRatioRedFillX,hxRatioRedFillY,xHx,yRatio,RED,'hx-ratio-contour-tng50-90');
drawFill(g6,hxRatioGreenFillX,hxRatioGreenFillY,xHx,yRatio,GREEN,'hx-ratio-contour-tng50-50');
drawFill(g6,hxRatioGreenLobeX,hxRatioGreenLobeY,xHx,yRatio,GREEN,'hx-ratio-contour-lobe-tng50-50');
drawFill(g6,hxRatioPurpleFillX,hxRatioPurpleFillY,xHx,yRatio,PURPLE,'hx-ratio-contour-tng50-30');
drawFill(g6,hxRatioBlueFillX,hxRatioBlueFillY,xHx,yRatio,BLUE,'hx-ratio-contour-egips');
drawPoints(g6,hxRatioRedX,hxRatioRedY,xHx,yRatio,RED,'up','hx-ratio-point-tng50-90');
drawPoints(g6,hxRatioGreenX,hxRatioGreenY,xHx,yRatio,GREEN,'left','hx-ratio-point-tng50-50');
drawPoints(g6,hxRatioPurpleX,hxRatioPurpleY,xHx,yRatio,PURPLE,'right','hx-ratio-point-tng50-30');
drawPoints(g6,hxRatioBlueX,hxRatioBlueY,xHx,yRatio,BLUE,'circle','hx-ratio-point-egips');
drawAxes(g6,1088,1781,1404.5,1980,hxXTicks,xHx,ratioYTicks,yRatio,hxXTickLabels,null);
</script>
</body>
</html>
